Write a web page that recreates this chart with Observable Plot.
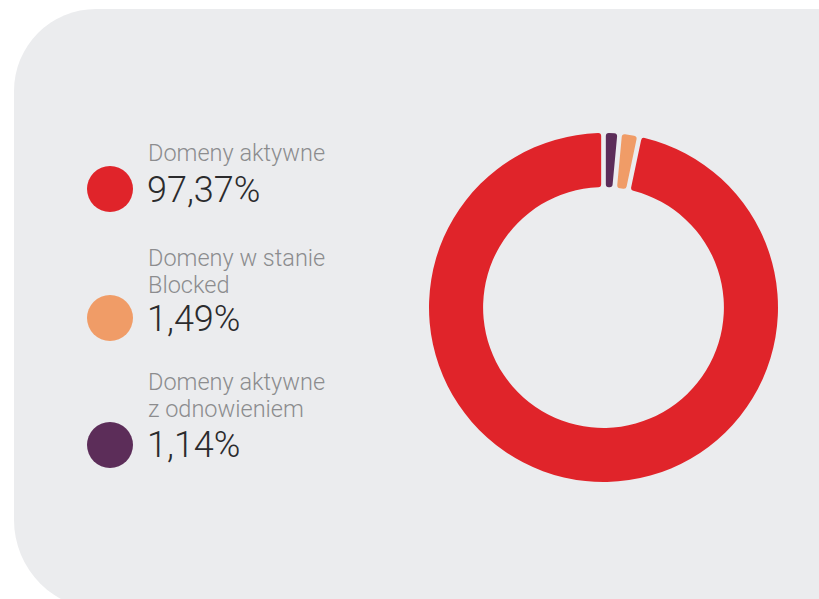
<!DOCTYPE html>
<html>
<head>
<meta charset="utf-8">
<script src="https://cdn.jsdelivr.net/npm/d3@7"></script>
<script src="https://cdn.jsdelivr.net/npm/@observablehq/plot@0.6"></script>
<style>
  html, body { margin: 0; padding: 0; background: #ffffff; }
  body { width: 819px; height: 599px; position: relative; overflow: hidden; font-family: Roboto, "Noto Sans", sans-serif; }
  #panel { position: absolute; left: 14px; top: 9px; width: 900px; height: 601px; background: #ebecee;
           border-top-left-radius: 82px; border-bottom-left-radius: 90px; }
  .dot { position: absolute; width: 46px; height: 46px; border-radius: 50%; }
  .lab { position: absolute; left: 148px; font-size: 23.5px; line-height: 27px; color: #8c8c8e; font-weight: 300; white-space: nowrap; }
  .val { position: absolute; left: 147px; font-size: 36px; line-height: 36px; color: #2b2b2d; font-weight: 300; white-space: nowrap; }
  #chart { position: absolute; left: 429px; top: 133px; }
</style>
</head>
<body>
<div id="panel"></div>
<div id="legend"></div>
<div id="chart"></div>
<script>
const categories = ["Domeny aktywne z odnowieniem", "Domeny w stanie Blocked", "Domeny aktywne"];
const values = [1.14, 1.49, 97.37];
const colors = ["#5c2d59", "#f09c67", "#e0242a"];
const legendLabels = [["Domeny aktywne"], ["Domeny w stanie", "Blocked"], ["Domeny aktywne", "z odnowieniem"]];
const legendValues = ["97,37%", "1,49%", "1,14%"];
const legendColors = ["#e0242a", "#f09c67", "#5c2d59"];

// Legend (HTML)
const legendTops = [
  {lab: 139.5, val: 171.7, dot: 166},
  {lab: 244.5, val: 300.7, dot: 295},
  {lab: 368.5, val: 426.7, dot: 422}
];
const legend = document.getElementById("legend");
legendLabels.forEach((lines, i) => {
  const t = legendTops[i];
  const lab = document.createElement("div");
  lab.className = "lab";
  lab.style.top = t.lab + "px";
  lab.innerHTML = lines.join("<br>");
  const val = document.createElement("div");
  val.className = "val";
  val.style.top = t.val + "px";
  val.textContent = legendValues[i];
  const dot = document.createElement("div");
  dot.className = "dot";
  dot.style.left = "87px";
  dot.style.top = t.dot + "px";
  dot.style.background = legendColors[i];
  legend.append(lab, val, dot);
});

// Donut
const data = categories.map((c, i) => ({category: c, value: values[i]}));
const pie = d3.pie().sort(null).value(d => d.value).padAngle(0.022)(data);
const size = 349;

const chart = Plot.plot({
  width: size,
  height: size,
  margin: 0,
  style: {background: "transparent", overflow: "visible"},
  x: {domain: [-1, 1], axis: null},
  y: {domain: [-1, 1], axis: null},
  color: {domain: categories, range: colors},
  marks: [
    Plot.dot(pie, {
      x: () => 0,
      y: () => 0,
      fill: d => d.data.category,
      render(index, scales, channels, dimensions) {
        const cx = scales.x(0), cy = scales.y(0);
        const outer = (scales.x(1) - scales.x(-1)) / 2;
        const inner = outer * 0.69;
        const arc = d3.arc().innerRadius(inner).outerRadius(outer).cornerRadius(3);
        const g = d3.create("svg:g").attr("transform", `translate(${cx},${cy})`);
        for (const i of index) {
          g.append("path").attr("d", arc(pie[i])).attr("fill", channels.fill[i]);
        }
        return g.node();
      }
    })
  ]
});
document.getElementById("chart").append(chart);
</script>
</body>
</html>
